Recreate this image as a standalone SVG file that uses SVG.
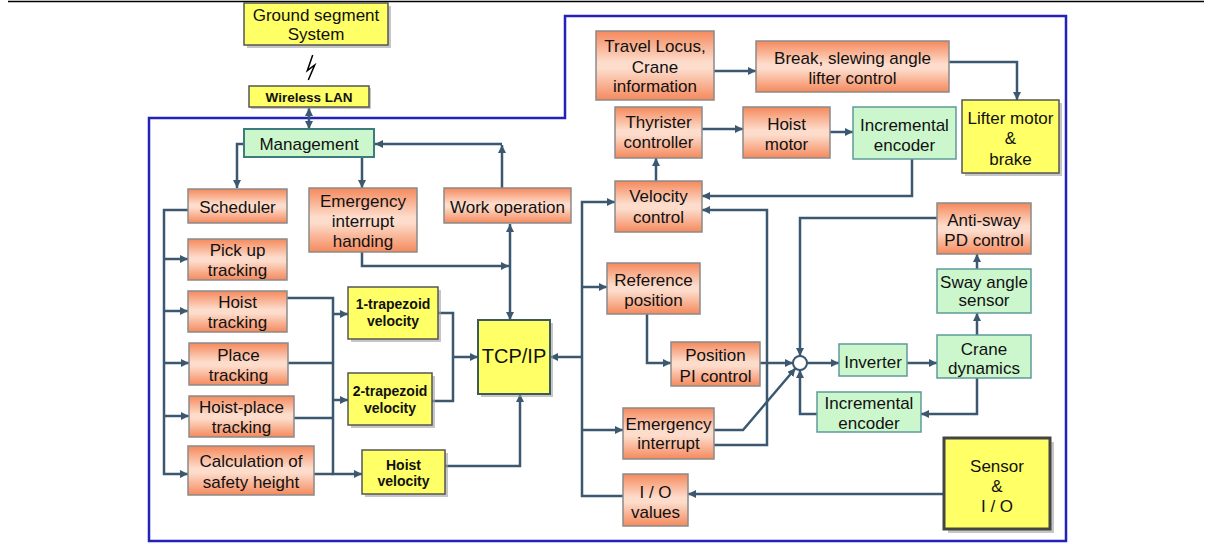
<svg xmlns="http://www.w3.org/2000/svg" width="1211" height="544" viewBox="0 0 1211 544">
<defs>
<linearGradient id="og" x1="0" y1="0" x2="0" y2="1">
<stop offset="0" stop-color="#f5895c"/>
<stop offset="0.45" stop-color="#fddccb"/>
<stop offset="0.55" stop-color="#fddccb"/>
<stop offset="1" stop-color="#f5895c"/>
</linearGradient>
<marker id="ah" viewBox="0 0 10 10" refX="10" refY="5" markerWidth="8" markerHeight="8" markerUnits="userSpaceOnUse" orient="auto-start-reverse">
<path d="M0,0 L10,5 L0,10 z" fill="#3b5870"/>
</marker>
</defs>
<style>
.o{fill:url(#og);stroke:#8a8a8a;stroke-width:1.5}
.g{fill:#ccf7cc;stroke:#5f9a9a;stroke-width:1.5}
.y{fill:#ffff66;stroke:#555;stroke-width:1.5}
.sh{fill:#a0a0a0;opacity:0.6}
.t{font-family:"Liberation Sans",Arial,sans-serif;font-size:17px;fill:#111;text-anchor:middle}
.tb{font-family:"Liberation Sans",Arial,sans-serif;font-size:14px;font-weight:bold;fill:#111;text-anchor:middle}
.c{fill:none;stroke:#3b5870;stroke-width:2.5}
.ca{fill:none;stroke:#3b5870;stroke-width:2.5;marker-end:url(#ah)}
.cb{fill:none;stroke:#3b5870;stroke-width:2.5;marker-end:url(#ah);marker-start:url(#ah)}
</style>
<rect width="1211" height="544" fill="#fff"/>
<line x1="8" y1="1.5" x2="1204" y2="1.5" stroke="#000" stroke-width="1.5"/>
<path d="M149,118 H565 V16 H1066 V541 H149 Z" fill="none" stroke="#2222bb" stroke-width="2.5"/>
<path d="M312.7,55 L307.3,70.7 L314.7,65 L308.3,80" fill="none" stroke="#000" stroke-width="1.5"/>

<g id="connectors">
<path class="cb" d="M309,108 V129"/>
<path class="ca" d="M244,144 H237 V188"/>
<path class="ca" d="M362,157 V188"/>
<path class="ca" d="M502,188 V145"/>
<path class="ca" d="M502,144 H375"/>
<path class="ca" d="M188,210 H164 V474 H188"/>
<path class="ca" d="M164,259 H188"/>
<path class="ca" d="M164,311 H188"/>
<path class="ca" d="M164,363 H189"/>
<path class="ca" d="M164,416 H189"/>
<path class="ca" d="M287,298 H333 V474 H362"/>
<path class="ca" d="M333,314 H348"/>
<path class="ca" d="M333,400 H348"/>
<path class="c" d="M288,363 H333"/>
<path class="c" d="M294,418 H333"/>
<path class="c" d="M314,474 H333"/>
<path class="c" d="M438,313 H453 V401 H432"/>
<path class="ca" d="M453,357 H478"/>
<path class="ca" d="M445,466 H520 V394"/>
<path class="cb" d="M510,224 V320"/>
<path class="ca" d="M362,252 V266 H509"/>
<path class="ca" d="M623,496 H582 V202 H615"/>
<path class="ca" d="M582,287 H607"/>
<path class="ca" d="M582,430 H623"/>
<path class="ca" d="M582,357 H550"/>
<path class="ca" d="M656,181 V158"/>
<path class="ca" d="M714,71 H756"/>
<path class="ca" d="M949,62 H1017 V100"/>
<path class="ca" d="M702,129 H743"/>
<path class="ca" d="M830,132 H853"/>
<path class="ca" d="M912,159 V196 H702"/>
<path class="ca" d="M714,445 H767 V210 H702"/>
<path class="ca" d="M714,430 H743 L795.5,368.3"/>
<path class="ca" d="M647,314 V363 H671"/>
<path class="ca" d="M760,363 H793"/>
<path class="ca" d="M937,218 H800 V356"/>
<path class="ca" d="M817,414 H800 V370"/>
<path class="ca" d="M807,363 H839"/>
<path class="ca" d="M907,363 H937"/>
<path class="ca" d="M977,378 V414 H921"/>
<path class="ca" d="M977,335 V313"/>
<path class="ca" d="M977,269 V254"/>
<path class="ca" d="M944,494 H688"/>
<circle cx="800" cy="363" r="7" fill="#fff" stroke="#3b5870" stroke-width="2"/>
</g>

<g id="ground"><rect class="sh" x="247" y="6" width="144" height="42"/><rect class="y" x="244" y="3" width="144" height="42"/>
<text class="t" font-size="17.5" x="316" y="21">Ground segment</text><text class="t" x="316" y="40">System</text></g>
<g id="wlan"><rect class="sh" x="251" y="88" width="120" height="21"/><rect class="y" x="249" y="86" width="120" height="21"/>
<text class="tb" style="font-size:13.5px" x="309" y="102">Wireless LAN</text></g>
<g id="management"><rect class="g" x="244" y="129" width="130" height="28" style="stroke:#3c7c7c;stroke-width:2"/>
<text class="t" x="309" y="150">Management</text></g>
<g id="scheduler"><rect class="o" x="188" y="189" width="99" height="34"/><text class="t" x="237.5" y="213">Scheduler</text></g>
<g id="emerg-handing"><rect class="o" x="309" y="188" width="108" height="64"/>
<text class="t" x="363" y="207">Emergency</text><text class="t" x="363" y="227">interrupt</text><text class="t" x="363" y="247">handing</text></g>
<g id="work-op"><rect class="o" x="444" y="188" width="127" height="35"/><text class="t" x="507.5" y="213">Work operation</text></g>
<g id="pickup"><rect class="o" x="188" y="239" width="99" height="41"/><text class="t" x="237.5" y="256">Pick up</text><text class="t" x="237.5" y="276">tracking</text></g>
<g id="hoist-tr"><rect class="o" x="188" y="291" width="99" height="41"/><text class="t" x="237.5" y="308">Hoist</text><text class="t" x="237.5" y="328">tracking</text></g>
<g id="place-tr"><rect class="o" x="189" y="343" width="99" height="42"/><text class="t" x="238.5" y="361">Place</text><text class="t" x="238.5" y="381">tracking</text></g>
<g id="hp-tr"><rect class="o" x="189" y="396" width="105" height="41"/><text class="t" x="241.5" y="413">Hoist-place</text><text class="t" x="241.5" y="433">tracking</text></g>
<g id="calc"><rect class="o" x="188" y="446" width="126" height="49"/><text class="t" x="251" y="467">Calculation of</text><text class="t" x="251" y="488">safety height</text></g>
<g id="trap1"><rect class="sh" x="351" y="290" width="90" height="52"/><rect class="y" x="348" y="287" width="90" height="52"/>
<text class="tb" x="393" y="309">1-trapezoid</text><text class="tb" x="393" y="326">velocity</text></g>
<g id="trap2"><rect class="sh" x="351" y="376" width="84" height="52"/><rect class="y" x="348" y="373" width="84" height="52"/>
<text class="tb" x="390" y="396">2-trapezoid</text><text class="tb" x="390" y="413">velocity</text></g>
<g id="hoist-vel"><rect class="sh" x="365" y="453" width="83" height="44"/><rect class="y" x="362" y="450" width="83" height="44"/>
<text class="tb" x="403.5" y="470">Hoist</text><text class="tb" x="403.5" y="486">velocity</text></g>
<g id="tcpip"><rect class="sh" x="481" y="323" width="72" height="74"/><rect class="y" x="478" y="320" width="72" height="74" style="stroke:#3c5a5a;stroke-width:2"/>
<text class="t" style="font-size:20px" x="514" y="363">TCP/IP</text></g>
<g id="travel"><rect class="o" x="596" y="31" width="118" height="69"/>
<text class="t" x="655" y="52">Travel Locus,</text><text class="t" x="655" y="73">Crane</text><text class="t" x="655" y="92">information</text></g>
<g id="break"><rect class="o" x="756" y="41" width="193" height="51"/>
<text class="t" x="852.5" y="64">Break, slewing angle</text><text class="t" x="852.5" y="84">lifter control</text></g>
<g id="lifter"><rect class="sh" x="965" y="103" width="97" height="73"/><rect class="y" x="962" y="100" width="97" height="73"/>
<text class="t" x="1010.5" y="124">Lifter motor</text><text class="t" x="1010.5" y="144">&amp;</text><text class="t" x="1010.5" y="165">brake</text></g>
<g id="thyrister"><rect class="o" x="615" y="107" width="87" height="51"/><text class="t" x="658.5" y="128">Thyrister</text><text class="t" x="658.5" y="148">controller</text></g>
<g id="hoist-motor"><rect class="o" x="743" y="107" width="87" height="51"/><text class="t" x="786.5" y="130">Hoist</text><text class="t" x="786.5" y="150">motor</text></g>
<g id="enc-top"><rect class="g" x="853" y="107" width="103" height="52"/><text class="t" x="904.5" y="131">Incremental</text><text class="t" x="904.5" y="151">encoder</text></g>
<g id="velocity"><rect class="o" x="615" y="181" width="87" height="51"/><text class="t" x="658.5" y="202">Velocity</text><text class="t" x="658.5" y="223">control</text></g>
<g id="refpos"><rect class="o" x="607" y="263" width="93" height="51"/><text class="t" x="653.5" y="286">Reference</text><text class="t" x="653.5" y="306">position</text></g>
<g id="pospi"><rect class="o" x="671" y="342" width="89" height="44"/><text class="t" x="715.5" y="361">Position</text><text class="t" x="715.5" y="382">PI control</text></g>
<g id="emerg"><rect class="o" x="623" y="408" width="91" height="51"/><text class="t" x="668.5" y="430">Emergency</text><text class="t" x="668.5" y="449">interrupt</text></g>
<g id="io"><rect class="o" x="623" y="474" width="65" height="52"/><text class="t" x="655.5" y="498">I / O</text><text class="t" x="655.5" y="518">values</text></g>
<g id="antisway"><rect class="o" x="937" y="203" width="94" height="51"/><text class="t" x="984" y="226">Anti-sway</text><text class="t" x="984" y="246">PD control</text></g>
<g id="sway"><rect class="g" x="937" y="269" width="94" height="44"/><text class="t" x="984" y="288">Sway angle</text><text class="t" x="984" y="306">sensor</text></g>
<g id="crane"><rect class="g" x="937" y="335" width="94" height="43"/><text class="t" x="984" y="355">Crane</text><text class="t" x="984" y="374">dynamics</text></g>
<g id="inverter"><rect class="g" x="839" y="344" width="68" height="32"/><text class="t" x="873" y="368">Inverter</text></g>
<g id="enc-bot"><rect class="g" x="817" y="392" width="104" height="40"/><text class="t" x="869" y="409">Incremental</text><text class="t" x="869" y="429">encoder</text></g>
<g id="sensor"><rect class="sh" x="948" y="442" width="106" height="91"/><rect class="y" x="944" y="438" width="106" height="91" style="stroke:#444;stroke-width:3"/>
<text class="t" x="997" y="472">Sensor</text><text class="t" x="997" y="492">&amp;</text><text class="t" x="997" y="512">I / O</text></g>
</svg>
